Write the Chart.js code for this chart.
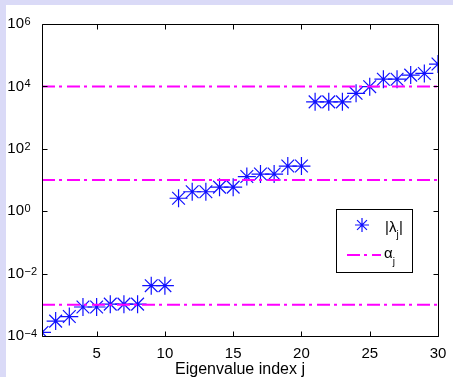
<!DOCTYPE html>
<html>
<head>
<meta charset="utf-8">
<script src="https://cdn.jsdelivr.net/npm/chart.js@4.4.0/dist/chart.umd.min.js"></script>
<style>
html,body{margin:0;padding:0;background:#fff;}
#wrap{width:453px;height:377px;position:relative;}
</style>
</head>
<body>
<div id="wrap"><canvas id="c" width="453" height="377"></canvas></div>
<script>
// ---- data ----
const indices = [1,2,3,4,5,6,7,8,9,10,11,12,13,14,15,16,17,18,19,20,21,22,23,24,25,26,27,28,29,30];
const lambdaAbs = [1.3e-4,3.0e-4,4.2e-4,8.5e-4,8.5e-4,1.05e-3,1.05e-3,1.05e-3,4.1e-3,4.1e-3,
                   2.6,4.2,4.2,5.9,5.9,12.9,15.5,15.5,28,28,
                   3200,3200,3200,6000,9800,17000,17000,23000,26000,52000];
const alphaLevels = [1e-3, 10, 1e4];
const xTicks = [5,10,15,20,25,30];
const yTicks = [1e-4,1e-2,1,1e2,1e4,1e6];
const yTickBase = '10';
const yTickExponents = ['\u22124','\u22122','0','2','4','6'];
const xTitle = 'Eigenvalue index j';
const legendLambda = ['|\u03BB','j','|'];
const legendAlpha = ['\u03B1','j'];

const FONT = '"Liberation Sans", Arial, Helvetica, sans-serif';
const Y_LABEL_PAD = 18;

const datasets = [{
  label: '|λj|',
  data: indices.map((j,i)=>({x:j,y:lambdaAbs[i]})),
  showLine: false,
  pointStyle: 'star',
  pointRadius: 9,
  pointBorderWidth: 1.2,
  borderColor: '#1010ff',
  backgroundColor: '#1010ff',
  order: 2
}];
alphaLevels.forEach(a=>{
  datasets.push({
    label: 'αj',
    data: [{x:indices[0],y:a},{x:indices[indices.length-1],y:a}],
    showLine: true,
    borderColor: '#ff00ff',
    borderWidth: 2,
    borderDash: [13,4,3,5],
    pointRadius: 0,
    fill: false,
    order: 1
  });
});

const deco = {
  id:'deco',
  beforeDraw(chart){
    const ctx = chart.ctx;
    ctx.save();
    ctx.fillStyle='#ffffff';
    ctx.fillRect(0,0,chart.width,chart.height);
    ctx.fillStyle='#dadaf7';
    ctx.fillRect(0,0,chart.width,5);
    ctx.fillRect(0,0,6,chart.height);
    ctx.restore();
  },
  afterDatasetsDraw(chart){
    const ctx = chart.ctx, a = chart.chartArea;
    const xs = chart.scales.x, ys = chart.scales.y;
    ctx.save();
    ctx.strokeStyle='#000';
    ctx.lineWidth=1;
    ctx.beginPath();
    const L=Math.round(a.left)+0.5, R=Math.round(a.right)+0.5, T=Math.round(a.top)+0.5, B=Math.round(a.bottom)+0.5;
    ctx.rect(L,T,R-L,B-T);
    const tl=5;
    xTicks.forEach(v=>{
      const px=Math.round(xs.getPixelForValue(v))+0.5;
      ctx.moveTo(px,B); ctx.lineTo(px,B-tl);
      ctx.moveTo(px,T); ctx.lineTo(px,T+tl);
    });
    yTicks.forEach(v=>{
      const py=Math.round(ys.getPixelForValue(v))+0.5;
      ctx.moveTo(L,py); ctx.lineTo(L+tl,py);
      ctx.moveTo(R,py); ctx.lineTo(R-tl,py);
    });
    ctx.stroke();

    // exponents of y tick labels
    ctx.fillStyle='#000';
    ctx.font='11px '+FONT;
    ctx.textAlign='left';
    ctx.textBaseline='alphabetic';
    yTicks.forEach((v,i)=>{
      const py=ys.getPixelForValue(v);
      ctx.fillText(yTickExponents[i], a.left-Y_LABEL_PAD+0.5, py+1);
    });

    // legend
    const bx=336.5, by=209.5, bw=76, bh=63;
    ctx.fillStyle='#fff';
    ctx.fillRect(bx,by,bw,bh);
    ctx.strokeRect(bx,by,bw,bh);
    const sx=362, sy=225, r=7;
    ctx.strokeStyle='#1010ff';
    ctx.lineWidth=1.2;
    ctx.beginPath();
    ctx.moveTo(sx-r,sy); ctx.lineTo(sx+r,sy);
    ctx.moveTo(sx,sy-r); ctx.lineTo(sx,sy+r);
    const d=r*Math.SQRT1_2;
    ctx.moveTo(sx-d,sy-d); ctx.lineTo(sx+d,sy+d);
    ctx.moveTo(sx-d,sy+d); ctx.lineTo(sx+d,sy-d);
    ctx.stroke();
    ctx.strokeStyle='#ff00ff';
    ctx.lineWidth=2;
    ctx.setLineDash([13,4,3,5]);
    ctx.lineDashOffset=-4;
    ctx.beginPath();
    ctx.moveTo(343,255); ctx.lineTo(381,255);
    ctx.stroke();
    ctx.setLineDash([]);
    ctx.fillStyle='#000';
    ctx.textBaseline='alphabetic';
    ctx.textAlign='left';
    ctx.font='15px '+FONT;
    let x=385;
    ctx.fillText(legendLambda[0],x,232);
    x+=ctx.measureText(legendLambda[0]).width;
    ctx.font='10px '+FONT;
    ctx.fillText(legendLambda[1],x,238);
    x+=ctx.measureText(legendLambda[1]).width+0.5;
    ctx.font='15px '+FONT;
    ctx.fillText(legendLambda[2],x,232);
    x=384;
    ctx.fillText(legendAlpha[0],x,258);
    x+=ctx.measureText(legendAlpha[0]).width;
    ctx.font='10px '+FONT;
    ctx.fillText(legendAlpha[1],x,265);
    ctx.restore();
  }
};

new Chart(document.getElementById('c'),{
  type:'scatter',
  data:{datasets},
  options:{
    responsive:false,
    animation:false,
    devicePixelRatio:1,
    layout:{padding:{left:0,right:15,top:24,bottom:0}},
    plugins:{legend:{display:false},tooltip:{enabled:false}},
    scales:{
      x:{
        type:'linear',
        min:1,max:30,
        afterBuildTicks(s){ s.ticks = xTicks.map(v=>({value:v})); },
        afterFit(s){ s.height = 41; s.paddingLeft = 0; s.paddingRight = 0; },
        grid:{display:false,drawTicks:false},
        border:{display:false},
        ticks:{color:'#000',font:{size:15,family:FONT},padding:9,maxRotation:0,autoSkip:false,
               callback:(v)=>String(v)},
        title:{display:true,text:xTitle,color:'#000',font:{size:16,family:FONT},padding:{top:0,bottom:-2}}
      },
      y:{
        type:'logarithmic',
        min:1e-4,max:1e6,
        afterBuildTicks(s){ s.ticks = yTicks.map(v=>({value:v})); },
        afterFit(s){ s.width = 42; s.paddingTop = 0; s.paddingBottom = 0; },
        grid:{display:false,drawTicks:false},
        border:{display:false},
        ticks:{color:'#000',font:{size:15,family:FONT},padding:Y_LABEL_PAD,autoSkip:false,
               callback:()=>yTickBase}
      }
    }
  },
  plugins:[deco]
});
</script>
</body>
</html>
